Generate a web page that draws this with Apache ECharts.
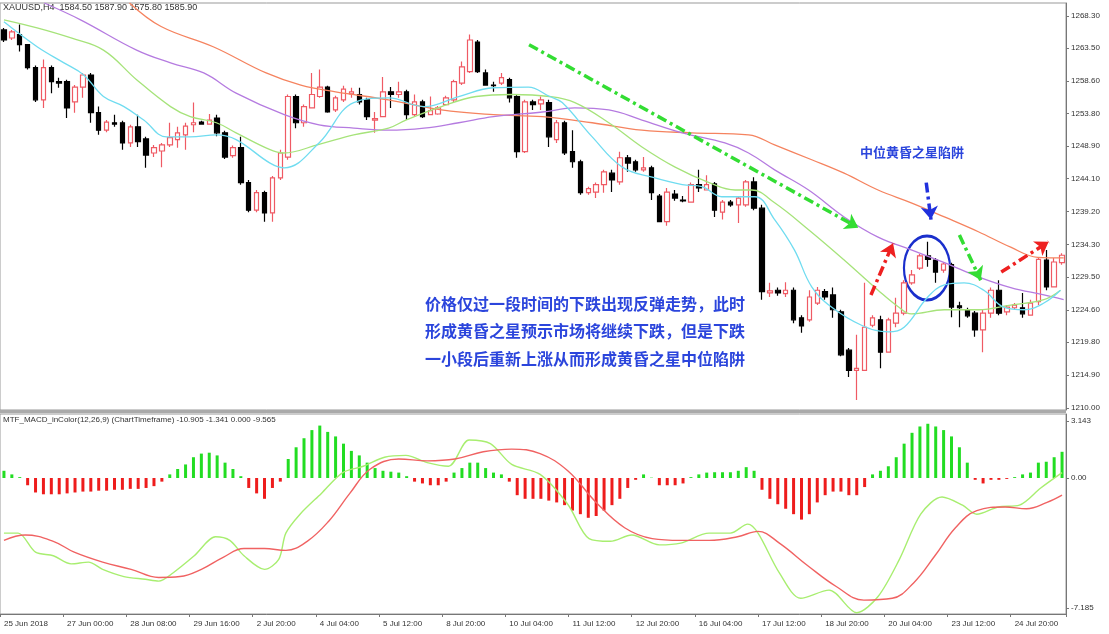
<!DOCTYPE html>
<html><head><meta charset="utf-8">
<script src="https://cdn.jsdelivr.net/npm/echarts@6/dist/echarts.min.js"></script>
<style>html,body{margin:0;padding:0;background:#fff}#c{width:1109px;height:634px}</style>
</head><body><div id="c"></div>
<script>
// OHLC as [open, close, low, high]
const candles = [
[1266.2,1264.7,1264.4,1266.5],[1265.0,1265.9,1264.7,1266.2],[1265.5,1264.0,1263.0,1267.0],[1264.0,1260.6,1260.3,1264.1],
[1260.6,1255.8,1255.5,1260.9],[1255.8,1260.6,1254.6,1261.8],[1260.6,1258.5,1256.8,1260.9],[1258.5,1258.3,1257.6,1259.1],
[1258.5,1254.6,1253.1,1258.8],[1255.5,1257.7,1253.9,1258.0],[1257.7,1259.5,1256.1,1259.8],[1259.5,1253.9,1252.4,1259.8],
[1253.9,1251.3,1250.6,1254.8],[1251.3,1252.5,1251.0,1252.8],[1252.4,1252.2,1251.8,1253.6],[1252.4,1249.4,1248.4,1252.7],
[1249.4,1251.8,1248.8,1252.1],[1251.8,1249.6,1248.8,1253.6],[1250.0,1247.6,1245.7,1250.3],[1247.9,1248.7,1247.3,1249.1],
[1248.2,1249.1,1245.8,1249.4],[1249.1,1250.2,1248.8,1252.4],[1249.9,1250.9,1248.7,1251.8],[1250.6,1251.9,1248.4,1252.4],
[1252.1,1252.4,1251.0,1255.4],[1252.5,1252.2,1252.1,1252.7],[1252.2,1252.8,1252.1,1253.7],[1253.1,1250.9,1250.4,1253.6],
[1250.9,1247.3,1247.0,1251.2],[1247.5,1248.7,1247.2,1249.0],[1248.7,1243.5,1243.2,1250.3],[1243.5,1239.4,1239.1,1243.9],
[1239.4,1242.0,1239.1,1242.4],[1242.0,1239.0,1237.7,1242.3],[1239.0,1244.2,1237.7,1244.5],[1244.2,1247.9,1243.9,1248.4],
[1247.3,1256.3,1246.9,1256.6],[1256.3,1252.4,1251.6,1256.6],[1252.4,1254.8,1251.8,1255.1],[1254.6,1256.6,1254.6,1259.8],
[1256.3,1257.7,1256.1,1260.3],[1257.7,1254.0,1253.9,1257.9],[1254.3,1256.1,1254.0,1256.4],[1255.8,1257.4,1255.5,1257.9],
[1256.7,1257.0,1256.1,1257.6],[1256.6,1255.5,1255.1,1257.6],[1255.8,1253.3,1252.8,1256.1],[1252.8,1253.0,1250.9,1254.0],
[1253.3,1257.0,1253.3,1259.2],[1257.0,1256.6,1254.6,1257.7],[1256.6,1257.0,1256.1,1258.5],[1257.0,1253.6,1252.8,1257.3],
[1253.6,1255.5,1253.3,1256.6],[1255.5,1253.3,1253.1,1255.8],[1253.6,1254.2,1253.6,1256.3],[1253.7,1254.6,1253.6,1254.9],
[1255.1,1256.1,1255.1,1256.4],[1255.8,1258.5,1255.5,1258.8],[1258.3,1260.7,1258.0,1261.5],[1260.0,1264.7,1259.8,1265.5],
[1264.4,1260.0,1259.8,1264.7],[1259.8,1258.0,1257.9,1260.3],[1258.0,1257.9,1257.0,1258.5],[1258.3,1259.1,1258.0,1259.8],
[1258.8,1256.1,1255.4,1259.1],[1256.3,1248.1,1247.2,1256.6],[1248.1,1255.5,1247.9,1255.8],[1255.5,1255.1,1254.3,1255.8],
[1255.2,1255.8,1254.3,1256.3],[1255.4,1250.3,1248.8,1255.8],[1249.9,1252.4,1249.4,1252.8],[1252.4,1247.9,1247.6,1252.7],
[1248.1,1246.6,1245.7,1251.3],[1246.6,1242.0,1241.7,1246.9],[1242.0,1242.6,1241.7,1242.9],[1242.1,1243.2,1241.2,1243.5],
[1243.2,1245.1,1242.0,1245.4],[1244.9,1243.9,1242.1,1245.4],[1243.6,1247.2,1243.2,1248.1],[1247.2,1246.4,1245.1,1247.6],
[1246.6,1245.4,1245.1,1246.9],[1245.4,1245.7,1245.1,1247.3],[1245.7,1242.0,1240.9,1246.0],[1241.5,1237.7,1237.7,1241.8],
[1237.7,1242.1,1237.1,1242.7],[1241.8,1241.2,1240.8,1242.4],[1240.9,1240.8,1240.6,1241.5],[1240.6,1243.2,1240.5,1243.5],
[1243.2,1242.7,1242.1,1245.4],[1242.4,1243.2,1242.4,1244.6],[1243.3,1239.4,1238.4,1243.6],[1239.1,1240.6,1238.0,1240.9],
[1240.6,1240.2,1239.9,1240.9],[1240.2,1241.2,1237.5,1241.4],[1240.2,1243.6,1239.9,1243.9],[1243.6,1239.7,1239.4,1244.3],
[1239.7,1227.3,1226.1,1240.2],[1227.1,1227.4,1226.5,1228.6],[1227.5,1227.1,1226.7,1227.9],[1227.0,1227.5,1226.5,1228.7],
[1227.5,1223.1,1222.6,1227.9],[1223.4,1222.2,1221.2,1223.8],[1223.1,1226.5,1222.8,1227.5],[1225.6,1227.5,1225.3,1228.0],
[1227.3,1226.5,1226.1,1227.7],[1226.8,1224.6,1223.4,1227.9],[1224.3,1217.9,1217.7,1224.6],[1218.6,1215.6,1214.6,1218.9],
[1215.6,1215.9,1211.2,1220.9],[1215.6,1222.0,1215.6,1228.6],[1222.3,1223.4,1222.0,1223.8],[1223.1,1218.3,1215.9,1223.7],
[1218.3,1223.1,1218.3,1223.4],[1222.6,1224.1,1222.0,1226.4],[1224.1,1228.6,1223.8,1229.0],[1228.6,1229.8,1228.3,1230.5],
[1230.8,1232.6,1230.5,1232.9],[1232.6,1232.1,1231.0,1234.7],[1232.0,1230.2,1228.6,1232.3],[1230.5,1231.4,1230.1,1231.7],
[1231.3,1225.0,1223.5,1231.6],[1225.2,1224.9,1222.0,1225.8],[1224.6,1223.7,1223.4,1224.9],[1224.1,1221.6,1220.6,1224.4],
[1221.6,1224.1,1218.3,1224.6],[1224.1,1227.5,1223.4,1227.9],[1227.5,1224.1,1223.8,1229.0],[1224.3,1225.0,1223.8,1225.3],
[1224.9,1225.3,1224.6,1225.6],[1224.9,1224.0,1223.4,1227.1],[1223.8,1225.6,1223.7,1226.1],[1225.8,1232.1,1225.3,1232.4],
[1232.0,1228.0,1227.5,1233.5],[1228.0,1231.7,1227.9,1232.3],[1231.6,1232.7,1231.3,1233.0]
];
const tickLabels = ['25 Jun 2018','27 Jun 00:00','28 Jun 08:00','29 Jun 16:00','2 Jul 20:00','4 Jul 04:00','5 Jul 12:00','8 Jul 20:00','10 Jul 04:00','11 Jul 12:00','12 Jul 20:00','16 Jul 04:00','17 Jul 12:00','18 Jul 20:00','20 Jul 04:00','23 Jul 12:00','24 Jul 20:00'];
const priceTicks = [1210.00,1214.90,1219.80,1224.60,1229.50,1234.30,1239.20,1244.10,1248.90,1253.80,1258.60,1263.50,1268.30];
const macdTicks = [3.143,0,-7.185];
// moving averages read at sample bars: [bar, price]
const maCyan = [[0,1267.4],[4.2,1263.7],[7.6,1261.3],[10.1,1259.5],[12.6,1256.3],[15.2,1254.8],[17.7,1252.8],[20.6,1250.3],[23.6,1250.3],[26.9,1250.6],[29.4,1249.9],[33.7,1246.4],[35.5,1245.7],[39.9,1249.4],[44.3,1255.4],[48.7,1256.1],[53.2,1254.8],[57.6,1256.3],[62,1257.6],[66.4,1257.7],[69.1,1256.3],[70.7,1255.4],[74.5,1250.3],[78.3,1245.8],[82.1,1244.3],[85.9,1243.2],[88.4,1242.9],[90.9,1241.4],[95.1,1241.4],[97.6,1238.0],[100.1,1233.5],[102.3,1228.0],[104.8,1225.0],[108.6,1222.3],[112,1221.3],[114,1222.0],[117,1226.5],[119.1,1228.3],[121.6,1228.6],[124.1,1227.5],[126.6,1225.0],[129.2,1224.6],[131.7,1225.6],[133.8,1227.5]];
const maGreen = [[0,1267.7],[4.2,1266.5],[8.5,1265.0],[12.6,1263.2],[16.8,1258.8],[21.1,1254.8],[23.6,1253.3],[26.9,1252.4],[29.4,1250.9],[33.7,1248.4],[35.4,1247.9],[39.9,1249.2],[44.3,1250.6],[48.7,1251.6],[50.9,1252.8],[55.4,1254.8],[59.8,1256.3],[64.3,1256.6],[69.1,1256.3],[72.3,1255.4],[76.6,1252.4],[80.8,1248.8],[85,1245.8],[89.3,1243.5],[92.6,1242.4],[94.7,1242.4],[97.6,1240.5],[101.9,1236.5],[106.4,1232.0],[110.7,1227.5],[113.3,1225.0],[114.9,1224.0],[119.1,1224.6],[123.4,1224.6],[127.5,1225.3],[131.7,1226.1],[133.8,1227.5]];
const maPurple = [[5.1,1270.2],[9.7,1267.7],[16.8,1263.2],[21.1,1261.3],[25.3,1259.8],[29.4,1256.8],[35.5,1253.6],[39.9,1252.1],[44.3,1251.6],[48.7,1251.3],[53.2,1251.6],[57.6,1252.4],[62,1253.3],[68.2,1254.0],[72.3,1254.6],[76.6,1254.3],[80.8,1252.8],[85.9,1250.9],[91.3,1249.4],[94.3,1247.9],[97.6,1245.4],[101.9,1242.4],[106.4,1238.4],[110.7,1235.4],[114.9,1233.5],[119.1,1231.6],[123.4,1229.5],[127.5,1227.9],[131.7,1226.8],[134.2,1226.1]];
const maOrange = [[15.9,1270.2],[19.9,1266.7],[26.5,1263.7],[33.2,1259.8],[37.6,1258.0],[42,1257.0],[48.7,1255.8],[55.4,1254.3],[62,1253.6],[68.2,1253.3],[74.5,1252.4],[80.8,1251.3],[87.1,1250.9],[94.3,1250.6],[97.6,1249.1],[102.3,1246.9],[106.4,1244.9],[110.7,1242.4],[114.9,1240.5],[119.1,1238.4],[123.4,1236.2],[127.5,1233.9],[130.9,1232.4],[134.2,1232.3]];
const macdHist = [0.4,0.2,0.05,-0.4,-0.8,-0.9,-0.9,-0.9,-0.85,-0.8,-0.75,-0.75,-0.7,-0.7,-0.65,-0.65,-0.6,-0.6,-0.55,-0.45,
-0.2,0.2,0.5,0.75,1.15,1.35,1.4,1.25,0.85,0.5,0.1,-0.55,-0.85,-1.15,-0.55,-0.2,1.05,1.7,2.2,2.65,
2.9,2.55,2.3,1.9,1.5,1.25,0.85,0.55,0.4,0.35,0.3,0.1,-0.2,-0.3,-0.4,-0.4,-0.2,0.3,0.55,0.85,
0.85,0.55,0.3,0.2,-0.2,-0.95,-1.15,-1.15,-1.15,-1.25,-1.35,-1.5,-1.8,-2.0,-2.2,-2.1,-1.8,-1.5,-1.15,-0.55,
-0.1,0.2,0.02,-0.4,-0.4,-0.4,-0.3,0.05,0.2,0.3,0.32,0.32,0.32,0.4,0.6,0.4,-0.65,-1.15,-1.45,-1.7,
-2.0,-2.3,-2.0,-1.35,-0.95,-0.75,-0.75,-0.95,-0.95,-0.5,0.2,0.4,0.65,1.15,1.9,2.5,2.85,3.0,2.85,2.65,
2.3,1.7,0.85,-0.1,-0.3,-0.1,-0.1,-0.05,0.05,0.2,0.3,0.85,0.9,1.15,1.45];
const macdLine = [[0,-3.05],[1.8,-3.05],[4,-4.1],[6.25,-4.3],[8.5,-4.75],[10.7,-4.65],[12.5,-5.05],[15.2,-5.45],[17.9,-5.6],[19.6,-5.7],[21.4,-5.25],[24.1,-4.3],[26.8,-3.25],[28.6,-3.45],[30.4,-4.3],[33,-5.05],[34.8,-4.5],[35.7,-3.05],[37.5,-2.0],[40.2,-0.85],[42.9,0.3],[45.5,0.65],[48.2,1.15],[50.9,1.25],[53.6,0.85],[56.3,0.65],[58.9,2.1],[61.6,1.9],[64.3,0.75],[67.9,0.2],[71.4,-1.45],[74.1,-3.35],[76.8,-3.5],[79.5,-3.15],[83,-3.7],[85.7,-3.6],[89.3,-3.05],[92,-3.05],[94.2,-2.55],[95.5,-3.05],[98.2,-5.25],[100.9,-6.65],[104.5,-6.2],[108,-7.45],[110.7,-6.55],[113.4,-4.5],[116.1,-2.0],[118.8,-1.05],[121.4,-1.5],[123.2,-2.0],[125.9,-1.6],[128.6,-1.5],[131.3,-0.55],[134,0.3]];
const signalLine = [[0,-3.45],[2.7,-3.15],[6.25,-3.5],[8.9,-4.1],[12.5,-4.65],[16.1,-5.05],[19.6,-5.5],[22.3,-5.45],[25,-5.05],[27.7,-4.4],[30.4,-3.9],[33,-3.9],[35.7,-4.0],[38.4,-3.5],[41.1,-2.4],[43.8,-0.85],[46.4,0.5],[50,1.05],[53.6,0.95],[57.1,1.05],[60.7,1.45],[64.3,1.6],[67.9,1.35],[71.4,0.4],[75,-1.35],[78.6,-2.75],[82.1,-3.35],[85.7,-3.45],[89.3,-3.45],[92.9,-3.25],[95.5,-2.95],[98.2,-3.6],[101.8,-4.85],[105.4,-6.0],[108.9,-6.75],[112.5,-6.65],[115.2,-5.8],[117.9,-4.3],[120.5,-2.75],[123.2,-1.8],[126.8,-1.6],[129.5,-1.7],[132.1,-1.35],[134,-0.95]];

const categories = candles.map((_, i) => String(i));
const labelFor = {}; tickLabels.forEach((t, k) => labelFor[k * 8] = t);

const chart = echarts.init(document.getElementById('c'));
const axisTxt = {fontSize: 8, color: '#333', fontFamily: 'Liberation Sans'};
const arrowLine = (a, b, color) => [
  {coord: a, lineStyle: {color, width: 3.5, type: [10, 4, 3, 4]}},
  {coord: b}
];
chart.setOption({
  animation: false,
  backgroundColor: '#fff',
  grid: [
    {left: -4, width: 1070, top: 3, height: 407, show: true, borderColor: '#999', borderWidth: 1},
    {left: -4, width: 1070, top: 414, height: 200, show: true, borderColor: '#999', borderWidth: 1}
  ],
  xAxis: [
    {type: 'category', gridIndex: 0, data: categories, axisLabel: {show: false}, axisTick: {show: false}, axisLine: {show: false}},
    {type: 'value', gridIndex: 0, min: -0.5, max: 134.5, show: false},
    {type: 'category', gridIndex: 1, data: categories, position: 'bottom',
      axisLine: {onZero: false, lineStyle: {color: '#777'}},
      axisTick: {show: true, interval: 7, length: 3, lineStyle: {color: '#777'}},
      axisLabel: {...axisTxt, interval: 7, align: 'left', margin: 6, formatter: (v, i) => labelFor[i] || ''}},
    {type: 'value', gridIndex: 1, min: -0.5, max: 134.5, show: false}
  ],
  yAxis: [
    {type: 'value', gridIndex: 0, position: 'right', min: 1209.7, max: 1270.2, splitLine: {show: false},
      axisLine: {show: true, onZero: false, lineStyle: {color: '#777'}},
      axisTick: {show: true, length: 3, customValues: priceTicks, lineStyle: {color: '#777'}},
      axisLabel: {...axisTxt, margin: 5, customValues: priceTicks, formatter: v => v.toFixed(2)}},
    {type: 'value', gridIndex: 1, position: 'right', min: -7.52, max: 3.54, splitLine: {show: false},
      axisLine: {show: true, onZero: false, lineStyle: {color: '#777'}},
      axisTick: {show: true, length: 3, customValues: macdTicks, lineStyle: {color: '#777'}},
      axisLabel: {...axisTxt, margin: 5, customValues: macdTicks, formatter: v => v === 0 ? '0.00' : v.toFixed(3)}}
  ],
  series: [
    {type: 'line', xAxisIndex: 1, yAxisIndex: 0, data: maOrange, smooth: 0.4, symbol: 'none', lineStyle: {color: '#f5835f', width: 1.3}},
    {type: 'line', xAxisIndex: 1, yAxisIndex: 0, data: maPurple, smooth: 0.4, symbol: 'none', lineStyle: {color: '#b57be0', width: 1.3}},
    {type: 'line', xAxisIndex: 1, yAxisIndex: 0, data: maGreen, smooth: 0.4, symbol: 'none', lineStyle: {color: '#a6e37a', width: 1.3}},
    {type: 'line', xAxisIndex: 1, yAxisIndex: 0, data: maCyan, smooth: 0.4, symbol: 'none', lineStyle: {color: '#70dcf0', width: 1.3}},
    {type: 'candlestick', xAxisIndex: 0, yAxisIndex: 0, data: candles, barWidth: 5,
      itemStyle: {color: '#fff', color0: '#000', borderColor: '#ef5a64', borderColor0: '#000', borderWidth: 1.2}},
    {type: 'line', xAxisIndex: 1, yAxisIndex: 0, data: [], symbol: 'none',
      markLine: {silent: true, symbol: ['none', 'arrow'], symbolSize: 13, label: {show: false},
        data: [
          arrowLine([66.5, 1264.0], [108.2, 1236.8], '#33dd33'),
          arrowLine([109.8, 1226.8], [112.6, 1234.5], '#ee2020'),
          arrowLine([116.8, 1243.5], [117.4, 1238.0], '#2030dd'),
          arrowLine([121.0, 1235.7], [123.7, 1229.0], '#33dd33'),
          arrowLine([126.3, 1230.2], [132.3, 1234.7], '#ee2020')
        ]}},
    {type: 'bar', xAxisIndex: 2, yAxisIndex: 1, data: macdHist, barWidth: 3,
      itemStyle: {color: p => p.value >= 0 ? '#22dd22' : '#ee1c1c'}},
    {type: 'line', xAxisIndex: 3, yAxisIndex: 1, data: macdLine, smooth: 0.3, symbol: 'none', lineStyle: {color: '#a8ee70', width: 1.4}},
    {type: 'line', xAxisIndex: 3, yAxisIndex: 1, data: signalLine, smooth: 0.4, symbol: 'none', lineStyle: {color: '#f06262', width: 1.4}}
  ],
  graphic: [
    {type: 'rect', shape: {x: 0, y: 410, width: 1066, height: 3}, style: {fill: '#aaa'}},
    {type: 'text', left: 3, top: 3, style: {text: 'XAUUSD,H4  1584.50 1587.90 1575.80 1585.90', fontSize: 9, fill: '#333', fontFamily: 'Liberation Sans'}},
    {type: 'text', left: 3, top: 416, style: {text: 'MTF_MACD_inColor(12,26,9) (ChartTimeframe) -10.905 -1.341 0.000 -9.565', fontSize: 8, fill: '#333', fontFamily: 'Liberation Sans'}},
    {type: 'text', left: 425, top: 290, style: {text: '价格仅过一段时间的下跌出现反弹走势，此时\n形成黄昏之星预示市场将继续下跌，但是下跌\n一小段后重新上涨从而形成黄昏之星中位陷阱',
      fontSize: 16, lineHeight: 27.5, fontWeight: 'bold', fill: '#2b45dc', fontFamily: 'Noto Sans CJK SC'}},
    {type: 'text', left: 860, top: 146, style: {text: '中位黄昏之星陷阱', fontSize: 13, fontWeight: 'bold', fill: '#2b45dc', fontFamily: 'Noto Sans CJK SC'}},
    {type: 'circle', shape: {cx: 0, cy: 0, r: 32}, x: 927, y: 268, scaleX: 0.72, scaleY: 1,
      style: {fill: 'none', stroke: '#1a2fcc', lineWidth: 3}}
  ]
});
</script></body></html>
